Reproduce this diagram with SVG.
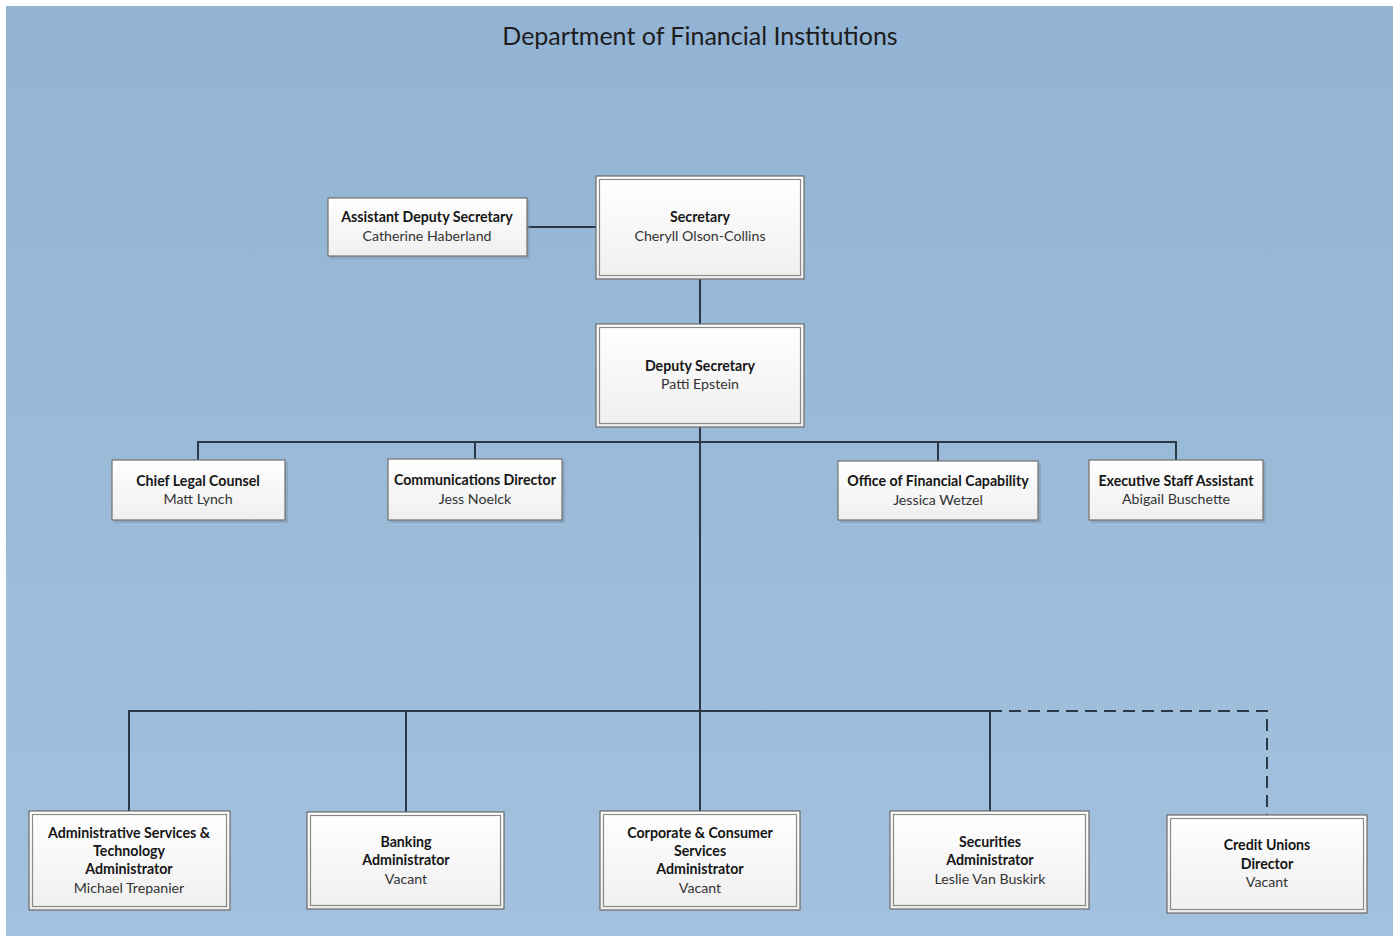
<svg xmlns="http://www.w3.org/2000/svg" width="1400" height="936" viewBox="0 0 1400 936">
  <defs>
    <linearGradient id="bg" x1="0" y1="0" x2="0" y2="1">
      <stop offset="0" stop-color="#92b3d3"/>
      <stop offset="1" stop-color="#a2c1de"/>
    </linearGradient>
    <linearGradient id="boxfill" x1="0" y1="0" x2="0" y2="1">
      <stop offset="0" stop-color="#ffffff"/>
      <stop offset="1" stop-color="#efefef"/>
    </linearGradient>
    <style>
      .title { font-family: Lato, "Liberation Sans", sans-serif; font-size: 25px; fill: #1c1c1c; text-anchor: middle; }
      .role { font-family: Lato, "Liberation Sans", sans-serif; font-size: 14.2px; font-weight: bold; fill: #161616; text-anchor: middle; }
      .name { font-family: Lato, "Liberation Sans", sans-serif; font-size: 14.2px; fill: #333333; text-anchor: middle; }
      .outer { fill: url(#boxfill); stroke: #6a6a6a; stroke-width: 1.2; }
      .inner { fill: none; stroke: #8a8a8a; stroke-width: 1.2; }
      .single { fill: url(#boxfill); stroke: #707070; stroke-width: 1.2; }
      .shadow { fill: #7d93a8; opacity: 0.5; }
      .line { stroke: #2b3846; stroke-width: 2; fill: none; }
      .dash { stroke: #2b3846; stroke-width: 2; fill: none; stroke-dasharray: 12 7; }
    </style>
  </defs>

  <rect x="0" y="0" width="1400" height="936" fill="#ffffff"/>
  <rect x="6" y="6" width="1387" height="930" fill="url(#bg)"/>

  <text class="title" x="700" y="45">Department of Financial Institutions</text>

  <!-- connectors -->
  <g id="connectors">
    <line class="line" x1="527" y1="227" x2="596" y2="227"/>
    <line class="line" x1="700" y1="279" x2="700" y2="324"/>
    <line class="line" x1="700" y1="427" x2="700" y2="811"/>
    <polyline class="line" points="198,460 198,442 1176,442 1176,460"/>
    <line class="line" x1="475" y1="442" x2="475" y2="459"/>
    <line class="line" x1="938" y1="442" x2="938" y2="461"/>
    <polyline class="line" points="129,811 129,711 990,711 990,811"/>
    <line class="line" x1="406" y1="711" x2="406" y2="812"/>
    <polyline class="dash" points="990,711 1267,711 1267,815"/>
  </g>

  <!-- top level -->
  <g id="assistant-deputy">
    <rect class="shadow" x="330" y="200" width="200" height="59"/>
    <rect class="single" x="328" y="198" width="199" height="58"/>
    <text class="role" x="427" y="222">Assistant Deputy Secretary</text>
    <text class="name" x="427" y="241">Catherine Haberland</text>
  </g>

  <g id="secretary">
    <rect class="outer" x="596" y="176" width="208" height="103"/>
    <rect class="inner" x="599.5" y="179.5" width="201" height="96"/>
    <text class="role" x="700" y="222">Secretary</text>
    <text class="name" x="700" y="241">Cheryll Olson-Collins</text>
  </g>

  <g id="deputy-secretary">
    <rect class="outer" x="596" y="324" width="208" height="103"/>
    <rect class="inner" x="599.5" y="327.5" width="201" height="96"/>
    <text class="role" x="700" y="371">Deputy Secretary</text>
    <text class="name" x="700" y="389">Patti Epstein</text>
  </g>

  <!-- staff row -->
  <g id="chief-legal">
    <rect class="shadow" x="114" y="462" width="174" height="61"/>
    <rect class="single" x="112" y="460" width="173" height="60"/>
    <text class="role" x="198" y="486">Chief Legal Counsel</text>
    <text class="name" x="198" y="504">Matt Lynch</text>
  </g>

  <g id="communications">
    <rect class="shadow" x="390" y="461" width="175" height="62"/>
    <rect class="single" x="388" y="459" width="174" height="61"/>
    <text class="role" x="475" y="485">Communications Director</text>
    <text class="name" x="475" y="504">Jess Noelck</text>
  </g>

  <g id="financial-capability">
    <rect class="shadow" x="840" y="463" width="201" height="60"/>
    <rect class="single" x="838" y="461" width="200" height="59"/>
    <text class="role" x="938" y="486">Office of Financial Capability</text>
    <text class="name" x="938" y="505">Jessica Wetzel</text>
  </g>

  <g id="executive-staff">
    <rect class="shadow" x="1091" y="462" width="175" height="61"/>
    <rect class="single" x="1089" y="460" width="174" height="60"/>
    <text class="role" x="1176" y="486">Executive Staff Assistant</text>
    <text class="name" x="1176" y="504">Abigail Buschette</text>
  </g>

  <!-- divisions -->
  <g id="admin-services">
    <rect class="outer" x="29" y="811" width="201" height="99"/>
    <rect class="inner" x="32.5" y="814.5" width="194" height="92"/>
    <text class="role" x="129" y="838">Administrative Services &amp;</text>
    <text class="role" x="129" y="856">Technology</text>
    <text class="role" x="129" y="874">Administrator</text>
    <text class="name" x="129" y="893">Michael Trepanier</text>
  </g>

  <g id="banking">
    <rect class="outer" x="307" y="812" width="197" height="97"/>
    <rect class="inner" x="310.5" y="815.5" width="190" height="90"/>
    <text class="role" x="406" y="847">Banking</text>
    <text class="role" x="406" y="865">Administrator</text>
    <text class="name" x="406" y="884">Vacant</text>
  </g>

  <g id="corporate-consumer">
    <rect class="outer" x="600" y="811" width="200" height="99"/>
    <rect class="inner" x="603.5" y="814.5" width="193" height="92"/>
    <text class="role" x="700" y="838">Corporate &amp; Consumer</text>
    <text class="role" x="700" y="856">Services</text>
    <text class="role" x="700" y="874">Administrator</text>
    <text class="name" x="700" y="893">Vacant</text>
  </g>

  <g id="securities">
    <rect class="outer" x="890" y="811" width="199" height="98"/>
    <rect class="inner" x="893.5" y="814.5" width="192" height="91"/>
    <text class="role" x="990" y="847">Securities</text>
    <text class="role" x="990" y="865">Administrator</text>
    <text class="name" x="990" y="884">Leslie Van Buskirk</text>
  </g>

  <g id="credit-unions">
    <rect class="outer" x="1167" y="815" width="200" height="98"/>
    <rect class="inner" x="1170.5" y="818.5" width="193" height="91"/>
    <text class="role" x="1267" y="850">Credit Unions</text>
    <text class="role" x="1267" y="869">Director</text>
    <text class="name" x="1267" y="887">Vacant</text>
  </g>
</svg>
